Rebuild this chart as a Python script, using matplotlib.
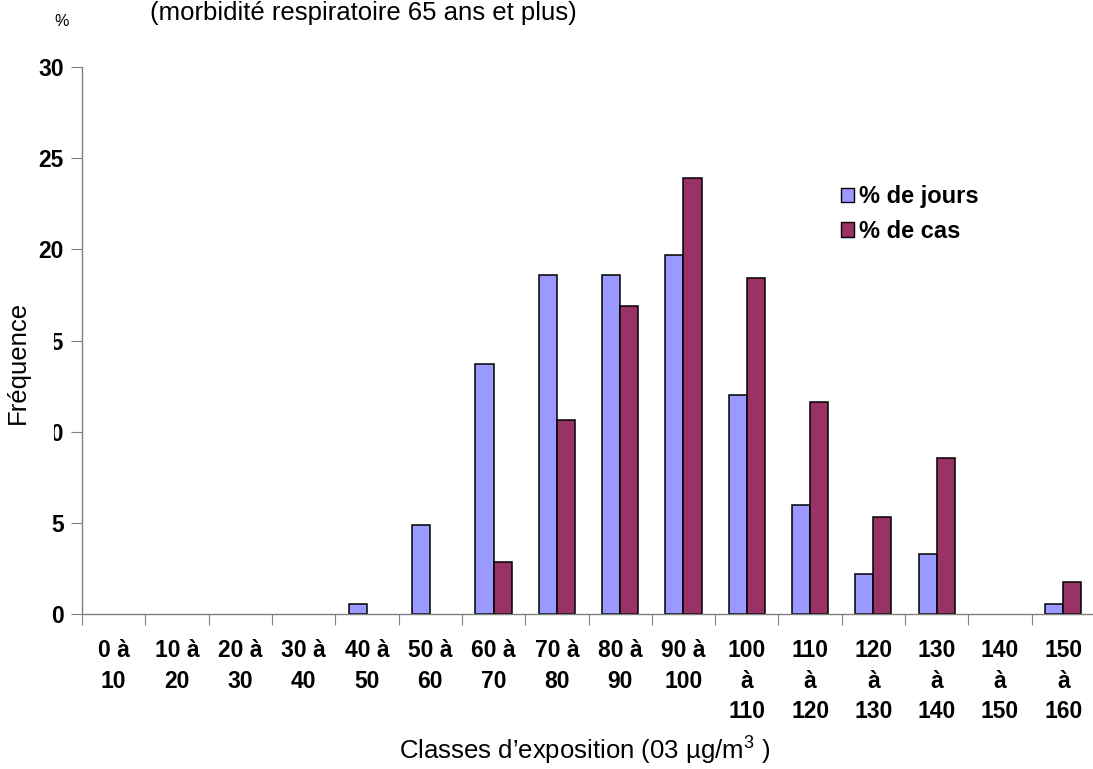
import matplotlib
matplotlib.use("Agg")
import matplotlib.pyplot as plt
import numpy as np
from matplotlib.patches import Rectangle

plt.rcParams['font.family'] = ['Liberation Sans', 'DejaVu Sans']
plt.rcParams['mathtext.fontset'] = 'custom'
plt.rcParams['mathtext.rm'] = 'Liberation Sans'
plt.rcParams['mathtext.it'] = 'Liberation Sans'

# Exposure classes (O3, µg/m3)
classes = ["0 à\n10", "10 à\n20", "20 à\n30", "30 à\n40", "40 à\n50", "50 à\n60",
           "60 à\n70", "70 à\n80", "80 à\n90", "90 à\n100", "100\nà\n110",
           "110\nà\n120", "120\nà\n130", "130\nà\n140", "140\nà\n150", "150\nà\n160"]

# Frequencies (%)
pct_jours = [0, 0, 0, 0, 0.55, 4.9, 13.7, 18.6, 18.6, 19.7, 12.0, 6.0, 2.2, 3.3, 0, 0.55]
pct_cas = [0, 0, 0, 0, 0, 0, 2.85, 10.65, 16.9, 23.9, 18.45, 11.6, 5.3, 8.55, 0, 1.75]

y_ticks = [0, 5, 10, 15, 20, 25, 30]

series_names = ["% de jours", "% de cas"]
col_jours = "#9999FF"
col_cas = "#993366"

W, H = 1093, 769
fig = plt.figure(figsize=(W / 100, H / 100), dpi=100)
ax = fig.add_axes([82 / W, 1 - 614 / H, (1095 - 82) / W, (614 - 67) / H])

x = np.arange(len(classes))
bw = 0.285


def draw_series(values, offset, color):
    vals = np.asarray(values, dtype=float)
    keep = vals > 0  # empty classes get no bar at all
    ax.bar(x[keep] + offset, vals[keep], width=bw, color=color,
           edgecolor="black", linewidth=1.1, zorder=2)


draw_series(pct_jours, -bw / 2, col_jours)
draw_series(pct_cas, bw / 2, col_cas)

ax.set_xlim(-0.5, len(classes) - 0.5)
ax.set_ylim(0, 30)

for s in ["top", "right"]:
    ax.spines[s].set_visible(False)
for s in ["left", "bottom"]:
    ax.spines[s].set_color("#808080")
    ax.spines[s].set_linewidth(1.0)

# category boundaries carry the tick marks, centres carry the labels
ax.set_xticks(np.arange(-0.5, len(classes), 1.0))
ax.set_xticklabels([])
ax.set_xticks(x, minor=True)
ax.set_xticklabels(classes, minor=True, fontsize=16.5, fontweight="bold",
                   linespacing=1.42, va="top")
ax.tick_params(axis="x", which="major", direction="out", length=8, color="#808080")
ax.tick_params(axis="x", which="minor", length=0, pad=18)

ax.set_yticks(y_ticks)
ax.set_yticklabels([str(v) for v in y_ticks], fontsize=16.5, fontweight="bold")
ax.tick_params(axis="y", direction="out", length=8, color="#808080", pad=5)

# axis title box overlapping the tick labels
fig.add_artist(Rectangle((0, 1 - 500 / H), 54 / W, 235 / H, transform=fig.transFigure,
                         facecolor="white", edgecolor="none", zorder=5))
fig.text(18 / W, 1 - 362 / H, "Fréquence", rotation=90, fontsize=18.5,
         ha="center", va="center", zorder=6)

fig.text(62 / W, 1 - 22 / H, "%", fontsize=11.5, ha="center", va="center")
fig.text(150 / W, 1 - 13 / H, "(morbidité respiratoire 65 ans et plus)", fontsize=18.5,
         ha="left", va="center")
fig.text(585 / W, 1 - 751 / H, "Classes d’exposition (03 µg/m$^{3}$ )", fontsize=18.5,
         ha="center", va="center")

handles = [Rectangle((0, 0), 1, 1, facecolor=col_jours, edgecolor="black", linewidth=1.0),
           Rectangle((0, 0), 1, 1, facecolor=col_cas, edgecolor="black", linewidth=1.0)]
ax.legend(handles, series_names, loc="upper left", bbox_to_anchor=(841 / W, 1 - 185 / H),
          bbox_transform=fig.transFigure, frameon=False,
          prop={"size": 17, "weight": "bold"}, handlelength=0.55, handleheight=0.55,
          handletextpad=0.22, labelspacing=0.5, borderpad=0, borderaxespad=0)

fig.savefig("out.png", dpi=100)
